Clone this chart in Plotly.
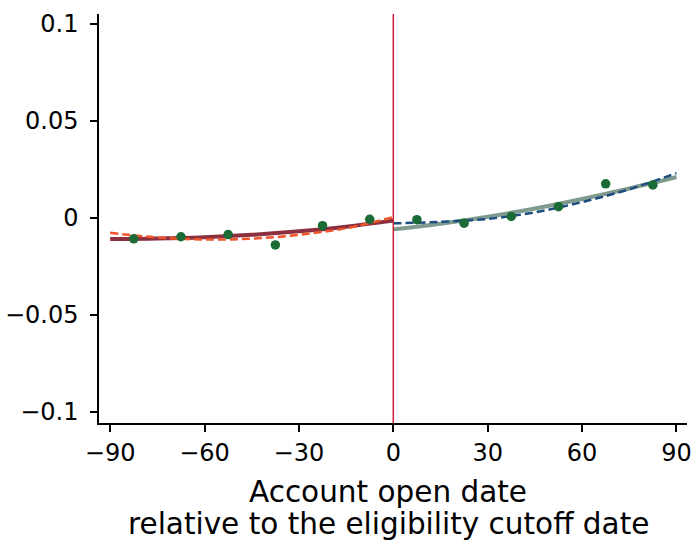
import plotly.graph_objects as go

# Binned means (dots)
bins_left = [-82.5, -67.5, -52.5, -37.5, -22.5, -7.5]
means_left = [-0.0108, -0.0097, -0.0086, -0.0139, -0.0040, -0.0007]
bins_right = [7.5, 22.5, 37.5, 52.5, 67.5, 82.5]
means_right = [-0.0009, -0.0027, 0.0008, 0.0058, 0.0176, 0.0170]

# Fitted curves
fit_x_left = [-90, -75, -60, -45, -30, -15, 0]
fit_solid_left = [-0.0109, -0.0106, -0.0099, -0.0087, -0.0069, -0.0045, -0.0014]
fit_dash_left = [-0.0077, -0.0101, -0.0111, -0.0107, -0.0087, -0.0053, 0.0004]
fit_x_right = [0, 15, 30, 45, 60, 75, 90]
fit_solid_right = [-0.0059, -0.0030, 0.0006, 0.0049, 0.0098, 0.0152, 0.0211]
fit_dash_right = [-0.0028, -0.0020, -0.0005, 0.0029, 0.0082, 0.0148, 0.0231]

# Tick labels
x_tickvals = [-90, -60, -30, 0, 30, 60, 90]
x_ticktext = ["\u221290", "\u221260", "\u221230", "0", "30", "60", "90"]
y_tickvals = [-0.1, -0.05, 0, 0.05, 0.1]
y_ticktext = ["\u22120.1", "\u22120.05", "0", "0.05", "0.1"]

title_line1 = "Account open date"
title_line2 = "relative to the eligibility cutoff date"

FONT = "DejaVu Sans, Liberation Sans, Arial, sans-serif"

fig = go.Figure()
fig.add_trace(go.Scatter(x=fit_x_left, y=fit_solid_left, mode="lines",
                         line=dict(color="#8C2F3F", width=4, shape="spline"),
                         showlegend=False, hoverinfo="skip"))
fig.add_trace(go.Scatter(x=fit_x_right, y=fit_solid_right, mode="lines",
                         line=dict(color="#7D9A8C", width=4, shape="spline"),
                         showlegend=False, hoverinfo="skip"))
fig.add_trace(go.Scatter(x=fit_x_left, y=fit_dash_left, mode="lines",
                         line=dict(color="#F0552A", width=2.5, dash="8px,4px", shape="spline"),
                         showlegend=False, hoverinfo="skip"))
fig.add_trace(go.Scatter(x=fit_x_right, y=fit_dash_right, mode="lines",
                         line=dict(color="#1C4E80", width=2.5, dash="8px,4px", shape="spline"),
                         showlegend=False, hoverinfo="skip"))
fig.add_trace(go.Scatter(x=bins_left + bins_right, y=means_left + means_right, mode="markers",
                         marker=dict(color="#1A6B36", size=9.5, line=dict(width=0)),
                         showlegend=False))

fig.add_shape(type="line", xref="x", yref="paper", x0=0, x1=0, y0=0, y1=1,
              line=dict(color="#C8203A", width=1.5), layer="above")

fig.add_annotation(text=title_line1, xref="paper", yref="paper", x=0.4915, y=-0.168,
                   xanchor="center", yanchor="middle", showarrow=False,
                   font=dict(family=FONT, size=29.5, color="#000000"))
fig.add_annotation(text=title_line2, xref="paper", yref="paper", x=0.4915, y=-0.247,
                   xanchor="center", yanchor="middle", showarrow=False,
                   font=dict(family=FONT, size=29.5, color="#000000"))

fig.update_layout(
    width=695, height=548,
    margin=dict(l=99, r=8, t=14, b=125, autoexpand=False),
    paper_bgcolor="white", plot_bgcolor="white",
    font=dict(family=FONT, color="#000000"),
    xaxis=dict(range=[-93.55, 93.35], tickvals=x_tickvals, ticktext=x_ticktext,
               showgrid=False, zeroline=False, showline=True, linecolor="#000000",
               linewidth=1.5, ticks="outside", ticklen=7, tickwidth=1.5, tickcolor="#000000",
               automargin=False,
               tickfont=dict(family=FONT, size=24, color="#000000")),
    yaxis=dict(range=[-0.10575, 0.10516], tickvals=y_tickvals, ticktext=y_ticktext,
               showgrid=False, zeroline=False, showline=True, linecolor="#000000",
               linewidth=1.5, ticks="outside", ticklen=7, tickwidth=1.5, tickcolor="#000000",
               automargin=False, ticklabelstandoff=7,
               tickfont=dict(family=FONT, size=24, color="#000000")),
)

fig.write_html("out.html", config={"displayModeBar": False},
               post_script="document.body.style.margin='0';document.body.style.overflow='hidden';")
